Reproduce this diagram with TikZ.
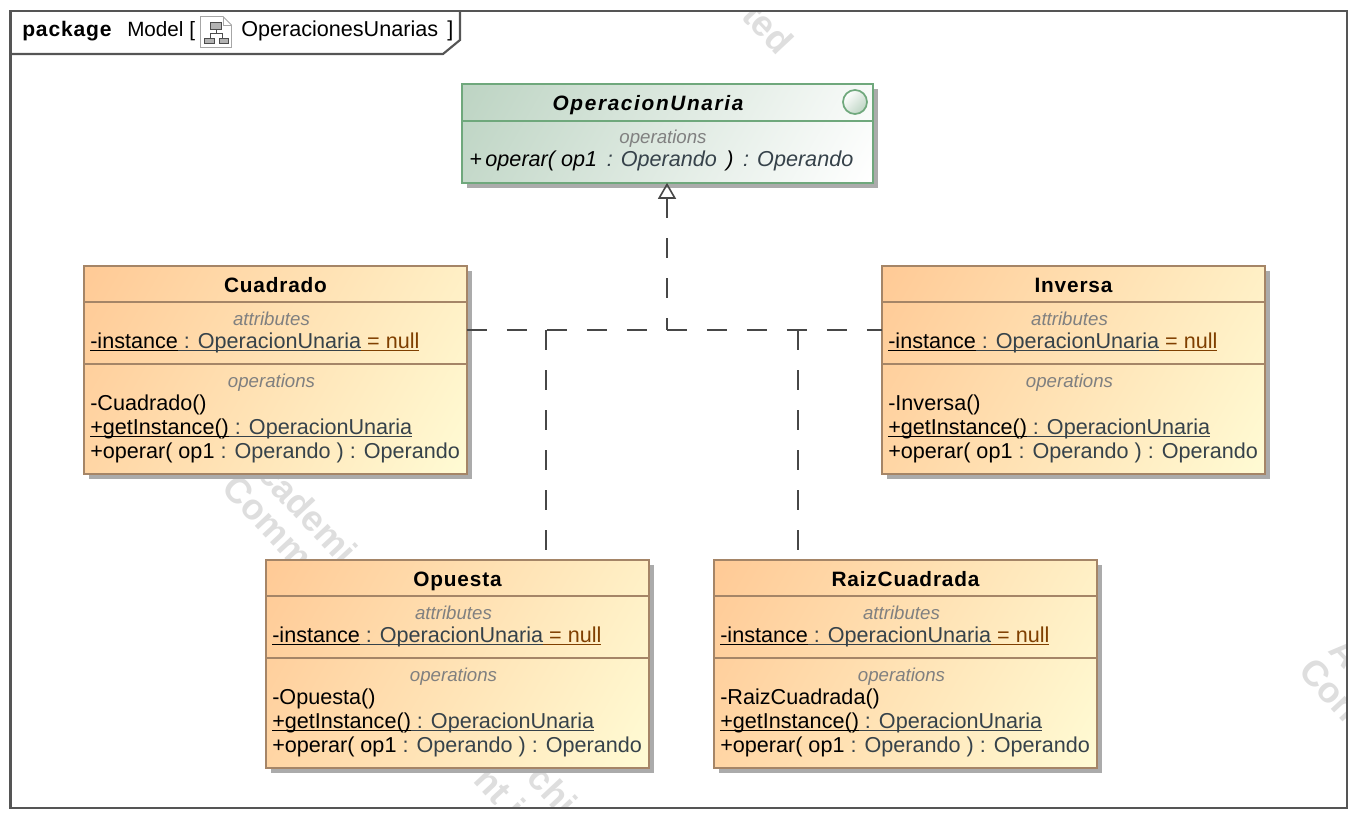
\documentclass[tikz,border=0pt]{standalone}
\usepackage{fontspec}
\setmainfont{Liberation Sans}
\newfontfamily\titlefont[LetterSpace=4]{Liberation Sans}
\newfontfamily\ifacefont[LetterSpace=8]{Liberation Sans}
\usetikzlibrary{arrows.meta,shadows}
\definecolor{framegray}{HTML}{555555}
\definecolor{peach}{HTML}{FFCA96}
\definecolor{paleyellow}{HTML}{FFFBD4}
\definecolor{classedge}{HTML}{A58567}
\definecolor{sagegreen}{HTML}{BDD4C3}
\definecolor{greenedge}{HTML}{6FA87C}
\definecolor{shadowgray}{HTML}{ABABAB}
\definecolor{typetext}{HTML}{36424A}
\definecolor{nulltext}{HTML}{7F3F00}
\definecolor{markgray}{HTML}{DEDEDE}
\pgfdeclarehorizontalshading{peachfade}{100bp}{color(0bp)=(peach); color(16bp)=(peach); color(84bp)=(paleyellow); color(100bp)=(paleyellow)}
\pgfdeclarehorizontalshading{sagefade}{100bp}{color(0bp)=(sagegreen); color(16bp)=(sagegreen); color(84bp)=(white); color(100bp)=(white)}
\newcommand{\ulined}[2][black]{{\color{#1}\setbox0=\hbox{#2}\rlap{\raisebox{-2.4pt}{\rule{\wd0}{1.1pt}}}\box0}}
\tikzset{
  x=0.75pt, y=-0.75pt,
  frameline/.style={draw=framegray, line width=1.6pt},
  classbox/.style={draw=classedge, line width=1.5pt, minimum width=287pt, minimum height=156pt, inner sep=0pt, outer sep=0pt,
    shading=peachfade, shading angle=-30,
    drop shadow={shadow xshift=3.75pt, shadow yshift=-3.75pt, fill=shadowgray, opacity=1}},
  ifacebox/.style={classbox, draw=greenedge, minimum width=308pt, minimum height=74pt,
    shading=sagefade, shading angle=-30},
  classline/.style={draw=classedge, line width=1.3pt},
  nametext/.style={font=\titlefont\bfseries\fontsize{15.6}{17}\selectfont, inner sep=0pt, anchor=base},
  section/.style={font=\itshape\fontsize{14}{16}\selectfont, text=gray, inner sep=0pt, anchor=base},
  member/.style={font=\fontsize{16.2}{19}\selectfont, inner sep=0pt, anchor=base west},
  realize/.style={draw=black!72, line width=1.3pt, dash pattern=on 15pt off 15pt},
  watermark/.style={font=\bfseries\fontsize{27}{27}\selectfont, text=markgray, rotate=-47, inner sep=0pt},
}
\begin{document}
\begin{tikzpicture}
\useasboundingbox (0,0) rectangle (1356,818);
% watermark behind everything
\begin{scope}
\clip (10,11) rectangle (1347,808);
\node[watermark] (markted) at (768,28) {ted};
\node[watermark] (markacad) at (308,512) {cademi};
\node[watermark] (markcomm) at (268,522) {Comm};
\node[watermark] (marknt) at (500,792) {nt i};
\node[watermark] (markchi) at (553,790) {chi};
\node[watermark] (markA) at (1345,653) {A};
\node[watermark] (markcon) at (1330,690) {Con};
\end{scope}
% frame and tab
\draw[frameline] (10.5,11) rectangle (1347,808);
\draw[frameline] (10.5,54) -- (443,54) -- (460,40) -- (460,11);
\node[nametext, anchor=base west, font=\titlefont\bfseries\fontsize{15.8}{17}\selectfont] (pkgword) at (22,36) {package};
\node[member, font=\fontsize{15.5}{17}\selectfont] (pkgname) at (127,36) {Model [};
\node[member] (pkgdiag) at (241,36) {OperacionesUnarias};
\node[member] (pkgclose) at (447,36) {]};
% little diagram icon
\draw[gray!70, fill=white, line width=.7pt] (200.5,16.5) -- (223,16.5) -- (231.5,25) -- (231.5,47.5) -- (200.5,47.5) -- cycle;
\draw[gray!70, line width=.7pt] (223,16.5) -- (223,25) -- (231.5,25);
\draw[black!70, line width=.6pt] (216,29) -- (216,33) (210,38) -- (210,33) -- (222,33) -- (222,38);
\filldraw[draw=black!70, fill=gray!60, line width=.5pt] (210.5,22) rectangle (221.5,29) (204.5,38) rectangle (214.5,43) (219,38) rectangle (228,43);
% the interface
\node[ifacebox] (operacion) at (667.5,133.5) {};
\draw[draw=greenedge, line width=1.3pt] (operacion.west |- 0,121) -- (operacion.east |- 0,121);
\node[nametext, font=\ifacefont\bfseries\itshape\fontsize{15.6}{17}\selectfont] (operaciontitle) at (648,110) {OperacionUnaria};
\draw[draw=greenedge, line width=1.3pt, left color=white, right color=sagegreen, shading angle=45] (855,102) circle (12);
\node[section] (operacionops) at (663,143) {operations};
\node[member] (operacionop) at (469,166) {\itshape +\,operar( op1 \,{\color{typetext}: Operando \,}) \,{\color{typetext}: Operando}};
% the four classes
\foreach \nm/\lab/\x/\y in {cuadrado/Cuadrado/84/266, inversa/Inversa/882/266, opuesta/Opuesta/266/560, raiz/RaizCuadrada/714/560} {
  \node[classbox] (\nm) at (\x+191.5,\y+104) {};
  \draw[classline] (\x,\y+36) -- (\x+383,\y+36);
  \draw[classline] (\x,\y+98) -- (\x+383,\y+98);
  \node[nametext] (\nm title) at (\x+191.5,\y+26) {\lab};
  \node[section] (\nm attr) at (\x+187.5,\y+59) {attributes};
  \node[member] (\nm inst) at (\x+6,\y+82) {\ulined{-instance}\ulined[typetext]{~: OperacionUnaria}\ulined[nulltext]{~= null}};
  \node[section] (\nm ops) at (\x+187.5,\y+121) {operations};
  \node[member] (\nm make) at (\x+6,\y+144) {-\lab()};
  \node[member] (\nm get) at (\x+6,\y+168) {\ulined{+getInstance()}\ulined[typetext]{~: OperacionUnaria}};
  \node[member] (\nm oper) at (\x+6,\y+192) {+operar( op1 {\color{typetext}: Operando ) : Operando}};
}
% realizations
\coordinate (bus) at (667,330);
\coordinate (opuestabus) at (546,330);
\coordinate (raizbus) at (798,330);
\draw[realize] (bus -| cuadrado.east) -- (bus -| inversa.west);
\draw[realize, {Triangle[open, length=12pt, width=13.5pt, line width=1.2pt]}-] (bus |- operacion.south) -- (bus);
\draw[realize] (opuestabus) -- (opuestabus |- opuesta.north);
\draw[realize] (raizbus) -- (raizbus |- raiz.north);
\end{tikzpicture}
\end{document}
